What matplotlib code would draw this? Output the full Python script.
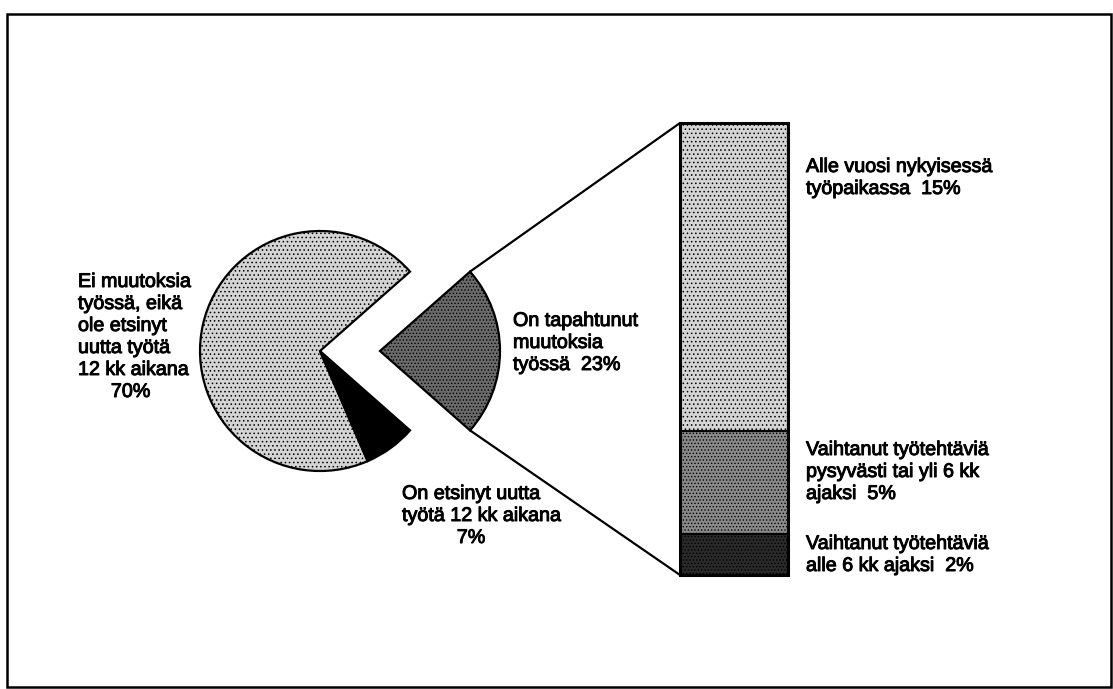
import matplotlib.pyplot as plt
from matplotlib.patches import Rectangle, ConnectionPatch
import matplotlib.patheffects as pe
import numpy as np

plt.rcParams['font.family'] = ['Liberation Sans', 'DejaVu Sans']
plt.rcParams['hatch.linewidth'] = 0.6

# pie: changed / no change / looked for new job
pie_labels = ["On tapahtunut\nmuutoksia\ntyössä  23%",
              "Ei muutoksia\ntyössä, eikä\nole etsinyt\nuutta työtä\n12 kk aikana\n      70%",
              "On etsinyt uutta\ntyötä 12 kk aikana\n          7%"]
pie_values = [23, 70, 7]

# bar: breakdown of the 23 %
bar_labels = ["Vaihtanut työtehtäviä\nalle 6 kk ajaksi  2%",
              "Vaihtanut työtehtäviä\npysyvästi tai yli 6 kk\najaksi  5%",
              "Alle vuosi nykyisessä\ntyöpaikassa  15%"]
bar_values = [2, 5, 15]

W, H = 1113, 689
fig = plt.figure(figsize=(W / 100, H / 100), dpi=100)
ax = fig.add_axes([0, 0, 1, 1])

cx, cy, r = 320, H - 351, 120
start = -360 * pie_values[0] / 100 / 2
wedges, _ = ax.pie(pie_values, startangle=start, center=(cx, cy), radius=r,
                   explode=(60, 0, 0), counterclock=True,
                   colors=['#6a6a6a', '#d4d4d4', 'black'],
                   wedgeprops=dict(ec='black', lw=1.6))
wedges[0].set_hatch('.....')
wedges[1].set_hatch('....')

ax.set_xlim(0, W)
ax.set_ylim(0, H)
ax.set_aspect('equal')
ax.axis('off')

# frame round the whole chart
ax.add_patch(Rectangle((7, 2), 1104, 673, fill=False, lw=1.8, ec='black'))

fs = 14.2
thick = [pe.withStroke(linewidth=0.7, foreground='black')]
kw = dict(fontsize=fs, va='top', ha='left', linespacing=1.2, path_effects=thick)
ax.text(78, H - 272, pie_labels[1], **kw)
ax.text(402, H - 484, pie_labels[2], **kw)
ax.text(513, H - 311, pie_labels[0], **kw)

# bar on its own axes
bax = fig.add_axes([680 / W, 114 / H, 108 / W, 452 / H])
bax.set_xlim(-0.5, 0.5)
bax.set_ylim(0, sum(bar_values))
bax.axis('off')
bottoms = np.concatenate([[0], np.cumsum(bar_values)[:-1]])
bar_colors = ['#2a2a2a', '#8a8a8a', '#d4d4d4']
bar_hatch = ['.....', '.....', '....']
for v, b, c, hh in zip(bar_values, bottoms, bar_colors, bar_hatch):
    bax.bar(0, v, bottom=b, width=1, color=c, hatch=hh, edgecolor='black', lw=1.5)
bax.add_patch(Rectangle((-0.5, 0), 1, sum(bar_values), fill=False, ec='black', lw=2.2, clip_on=False))

bar_text_y = [537, 443, 160]
for lab, ty in zip(bar_labels, bar_text_y):
    ax.text(806, H - ty + 3, lab, **kw)

# connector lines from the exploded wedge to the bar
w0 = wedges[0]
ex, ey = w0.center
for ang, yb in [(w0.theta2, sum(bar_values)), (w0.theta1, 0)]:
    px = ex + r * np.cos(np.radians(ang))
    py = ey + r * np.sin(np.radians(ang))
    con = ConnectionPatch(xyA=(px, py), coordsA=ax.transData,
                          xyB=(-0.5, yb), coordsB=bax.transData,
                          color='black', lw=1.6)
    fig.add_artist(con)

fig.savefig('out.png', dpi=100)
